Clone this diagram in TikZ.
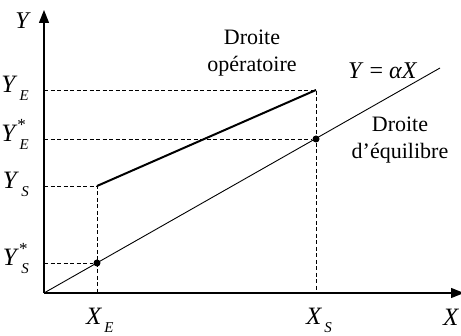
\documentclass[tikz,border=0pt]{standalone}
\usepackage{fontspec}
\setmainfont{Liberation Serif}
\usetikzlibrary{arrows.meta}
\newcommand{\lbl}[3]{{\fontsize{25}{25}\selectfont\textit{#1}}\rlap{\raisebox{0.5em}{\fontsize{17}{17}\selectfont #3}}\hspace{0.1em}\raisebox{-0.35em}{\fontsize{15}{15}\selectfont\textit{#2}}}
\begin{document}
\begin{tikzpicture}[x=1pt,y=-1pt,
  txt/.style={font=\fontsize{22}{27}\selectfont, inner sep=0pt},
  axis/.style={line width=1.4pt},
  guide/.style={line width=0.7pt, dash pattern=on 4pt off 2.5pt},
  dot/.style={circle, fill=black, inner sep=0pt, minimum size=7pt}]
\useasboundingbox (0,0) rectangle (461,336);
\coordinate (O) at (44,293);
\coordinate (Ytop) at (44,10);
\coordinate (Xend) at (464,293);
\coordinate (A) at (97,186);
\coordinate (B) at (316,90);
\coordinate (Eend) at (440,68);
\node[dot] (P) at (97,263) {};
\node[dot] (Q) at (316,139) {};
\coordinate (XEb) at (97,293);
\coordinate (XSb) at (316,293);
\coordinate (YEl) at (44,90);
\coordinate (YEsl) at (44,139);
\coordinate (YSl) at (44,186);
\coordinate (YSsl) at (44,263);
% guides
\draw[guide] (YEl) -- (B) -- (XSb);
\draw[guide] (YEsl) -- (Q);
\draw[guide] (YSl) -- (A) -- (XEb);
\draw[guide] (YSsl) -- (P);
% axes
\draw[axis,-{Triangle[length=13pt,width=10pt]}] (O) -- (Ytop);
\draw[axis,-{Triangle[length=13pt,width=10pt]}] (O) -- (Xend);
% lines
\draw[line width=0.9pt] (O) -- (Eend);
\draw[line width=2pt] (A) -- (B);
% labels
\node[txt,font=\fontsize{24}{24}\selectfont] (ly) at (23,21) {\textit{Y}};
\node[txt,anchor=base east] (lye) at (29,93) {\lbl{Y}{E}{}};
\node[txt,anchor=base east] (lyes) at (29,142) {\lbl{Y}{E}{*}};
\node[txt,anchor=base east] (lys) at (29,189) {\lbl{Y}{S}{}};
\node[txt,anchor=base east] (lyss) at (29,266) {\lbl{Y}{S}{*}};
\node[txt,anchor=base west] (lxe) at (86,325) {\lbl{X}{E}{}};
\node[txt,anchor=base west] (lxs) at (306,325) {\lbl{X}{S}{}};
\node[txt,anchor=base west,font=\fontsize{25}{25}\selectfont] (lx) at (443,326) {\textit{X}};
\node[txt,align=center] (op) at (252,53) {Droite\\opératoire};
\node[txt,anchor=base west,font=\fontsize{24}{24}\selectfont] (eq) at (348,79) {\textit{Y} = \textit{αX}};
\node[txt,align=center] (de) at (400,140) {Droite\\d’équilibre};
\end{tikzpicture}
\end{document}
